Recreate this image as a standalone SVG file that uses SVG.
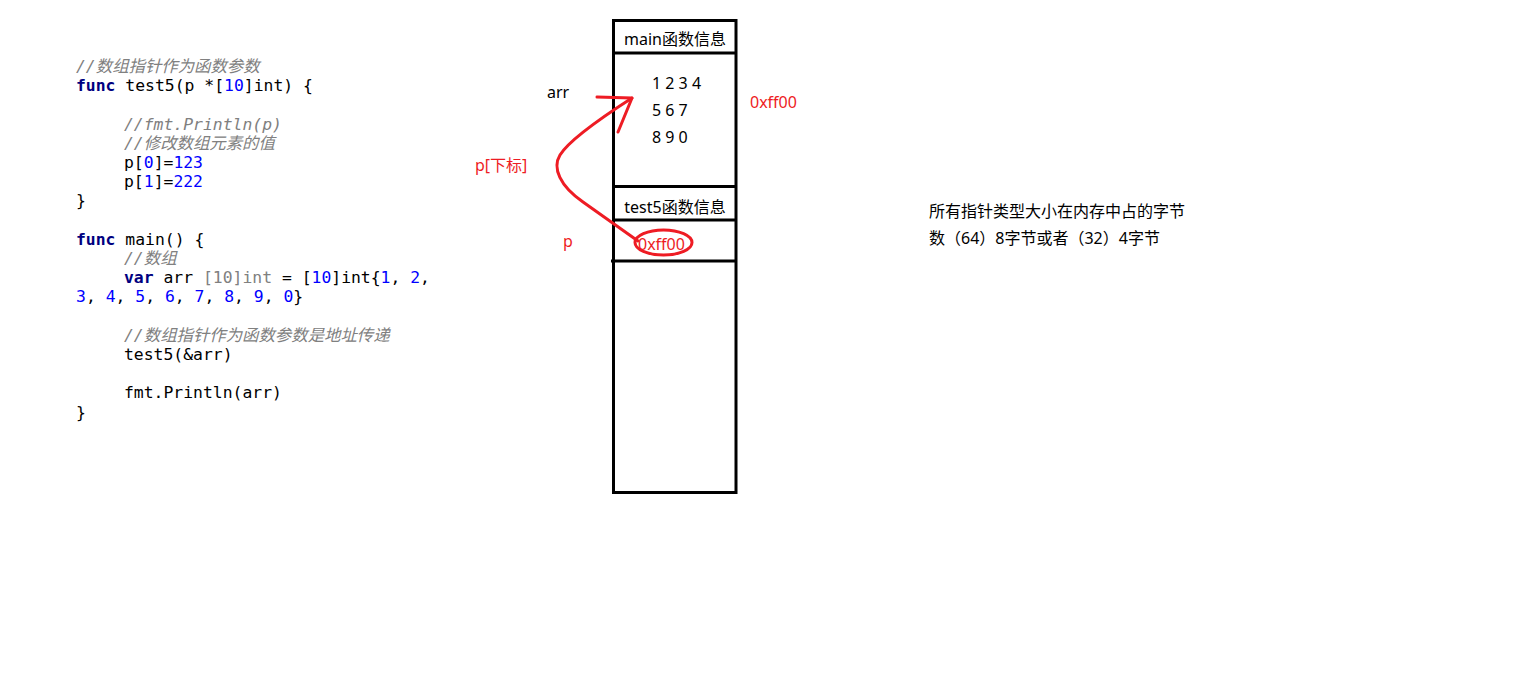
<svg xmlns="http://www.w3.org/2000/svg" width="1532" height="699" viewBox="0 0 1532 699">
<style>
.code{font-family:"DejaVu Sans Mono","Noto Sans CJK SC",monospace;font-size:16.4px;fill:#000;white-space:pre}
.cm{fill:#808080;font-style:italic}
.kw{fill:#000080;font-weight:bold}
.num{fill:#0000ff}
.gr{fill:#808080}
.lbl{font-family:"Noto Sans","Noto Sans CJK SC",sans-serif;font-size:16px;fill:#000}
.red{fill:#ee1c24}
.box{fill:none;stroke:#000;stroke-width:3}
.rl{fill:none;stroke:#ee1c24;stroke-width:3;stroke-linecap:round;stroke-linejoin:round}
</style>
<rect width="1532" height="699" fill="#fff"/>
<g id="code" class="code" xml:space="preserve">
<text x="76" y="72" class="cm">//数组指针作为函数参数</text>
<text x="76" y="91.2"><tspan class="kw">func</tspan> test5(p *[<tspan class="num">10</tspan>]int) {</text>
<text x="124" y="129.6" class="cm">//fmt.Println(p)</text>
<text x="124" y="148.8" class="cm">//修改数组元素的值</text>
<text x="124" y="168">p[<tspan class="num">0</tspan>]=<tspan class="num">123</tspan></text>
<text x="124" y="187.2">p[<tspan class="num">1</tspan>]=<tspan class="num">222</tspan></text>
<text x="76" y="206.4">}</text>
<text x="76" y="244.8"><tspan class="kw">func</tspan> main() {</text>
<text x="124" y="264" class="cm">//数组</text>
<text x="124" y="283.2"><tspan class="kw">var</tspan> arr <tspan class="gr">[10]int</tspan> = [<tspan class="num">10</tspan>]int{<tspan class="num">1</tspan>, <tspan class="num">2</tspan>,</text>
<text x="76" y="302.4"><tspan class="num">3</tspan>, <tspan class="num">4</tspan>, <tspan class="num">5</tspan>, <tspan class="num">6</tspan>, <tspan class="num">7</tspan>, <tspan class="num">8</tspan>, <tspan class="num">9</tspan>, <tspan class="num">0</tspan>}</text>
<text x="124" y="340.8" class="cm">//数组指针作为函数参数是地址传递</text>
<text x="124" y="360">test5(&amp;arr)</text>
<text x="124" y="398.4">fmt.Println(arr)</text>
<text x="76" y="417.6">}</text>
</g>
<g id="stack">
<rect x="613.5" y="20.5" width="122.5" height="472" class="box"/>
<line x1="613.5" y1="53" x2="736" y2="53" class="box"/>
<line x1="613.5" y1="186.5" x2="736" y2="186.5" class="box"/>
<line x1="613.5" y1="220" x2="736" y2="220" class="box"/>
<line x1="611" y1="261" x2="736" y2="261" class="box"/>
</g>
<g id="main-frame">
<text x="675" y="45" text-anchor="middle" class="lbl">main函数信息</text>
<text x="652" y="89" class="lbl">1 2 3 4</text>
<text x="652" y="116" class="lbl">5 6 7</text>
<text x="652" y="143" class="lbl">8 9 0</text>
</g>
<g id="test5-frame">
<text x="675" y="213" text-anchor="middle" class="lbl">test5函数信息</text>
<text x="638" y="250" class="lbl red">0xff00</text>
<ellipse cx="663.5" cy="242.5" rx="28.5" ry="12.5" class="rl"/>
</g>
<g id="labels">
<text x="547" y="98" class="lbl">arr</text>
<text x="750" y="108" class="lbl red">0xff00</text>
<text x="475" y="171" class="lbl red">p[下标]</text>
<text x="563" y="247" class="lbl red">p</text>
</g>
<g id="note">
<text x="929" y="217" class="lbl" font-size="15.5">所有指针类型大小在内存中占的字节</text>
<text x="929" y="244" class="lbl" font-size="15.5">数（64）8字节或者（32）4字节</text>
</g>
<g id="connectors">
<path d="M 638,241 L 583,202 C 560,186 552,168 560,155 C 568,142 590,125 632,98" class="rl"/>
<path d="M 597,97 L 632,98 L 618,132" class="rl"/>
</g>
</svg>
